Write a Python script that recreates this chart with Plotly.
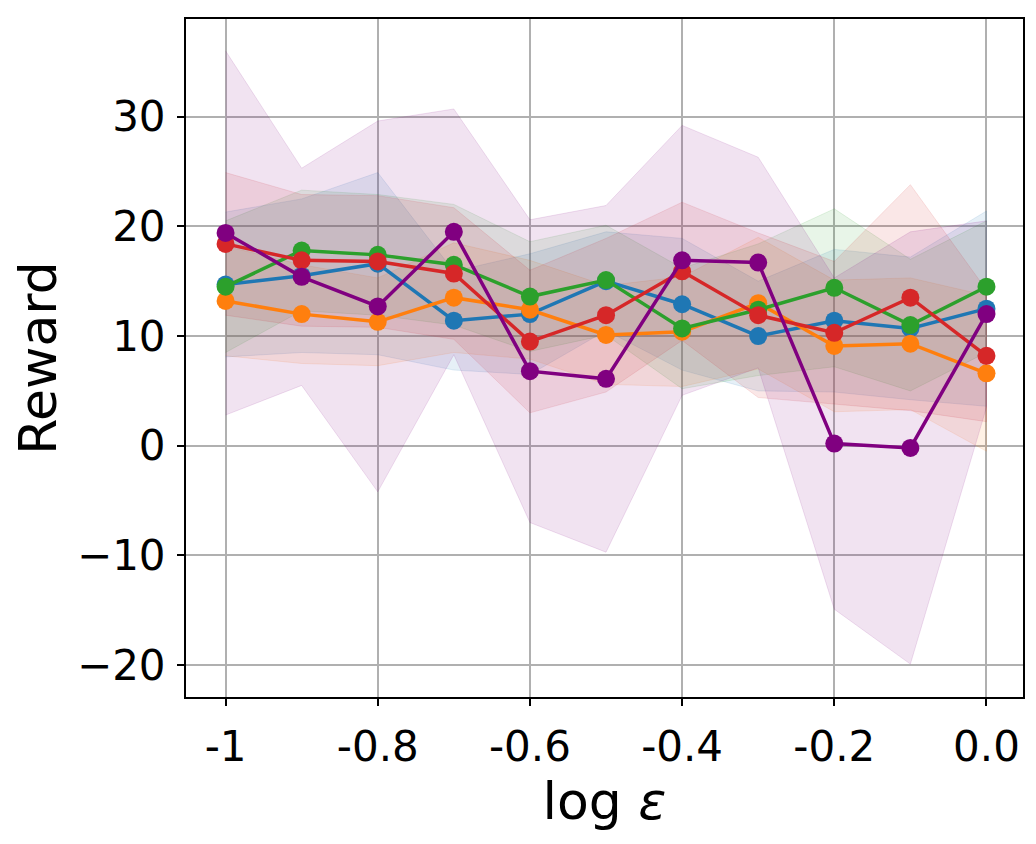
import plotly.graph_objects as go

x_vals = [-1.0, -0.9, -0.8, -0.7, -0.6, -0.5, -0.4, -0.3, -0.2, -0.1, 0.0]
x_tick_vals = [-1.0, -0.8, -0.6, -0.4, -0.2, 0.0]
x_tick_text = ["-1", "-0.8", "-0.6", "-0.4", "-0.2", "0.0"]
y_tick_vals = [-20, -10, 0, 10, 20, 30]

blue_mean = [14.7, 15.5, 16.6, 11.4, 12.0, 15.0, 12.9, 10.0, 11.4, 10.7, 12.5]
blue_std = [6.6, 7.0, 8.3, 4.5, 5.5, 4.5, 6.0, 5.0, 6.5, 6.5, 8.9]

orange_mean = [13.2, 12.0, 11.3, 13.5, 12.4, 10.1, 10.4, 13.0, 9.1, 9.3, 6.6]
orange_std = [5.0, 4.5, 4.0, 5.0, 4.5, 4.5, 5.0, 6.0, 6.0, 6.0, 7.1]

green_mean = [14.5, 17.8, 17.4, 16.5, 13.6, 15.1, 10.7, 12.4, 14.4, 11.0, 14.5]
green_std = [6.0, 5.5, 5.5, 5.5, 5.0, 5.0, 5.5, 6.0, 7.2, 6.0, 6.0]

red_mean = [18.4, 16.9, 16.8, 15.7, 9.5, 11.9, 15.9, 11.9, 10.3, 13.5, 8.2]
red_std = [6.5, 6.0, 6.0, 6.0, 6.5, 7.0, 6.3, 7.5, 6.5, 10.3, 6.0]

purple_mean = [19.4, 15.4, 12.7, 19.5, 6.8, 6.1, 16.9, 16.7, 0.2, -0.2, 12.0]
purple_std = [16.6, 9.9, 16.9, 11.2, 13.8, 15.8, 12.3, 9.6, 15.1, 19.7, 8.5]

series = [
    ("blue", blue_mean, blue_std, (31, 119, 180)),
    ("orange", orange_mean, orange_std, (255, 127, 14)),
    ("green", green_mean, green_std, (44, 160, 44)),
    ("red", red_mean, red_std, (214, 39, 40)),
    ("purple", purple_mean, purple_std, (128, 0, 128)),
]

fig = go.Figure()

for name, mean, std, (r, g, b) in series:
    upper = [m + s for m, s in zip(mean, std)]
    lower = [m - s for m, s in zip(mean, std)]
    fig.add_trace(go.Scatter(
        x=x_vals + x_vals[::-1],
        y=upper + lower[::-1],
        fill="toself",
        fillcolor=f"rgba({r},{g},{b},0.11)",
        line=dict(color=f"rgba({r},{g},{b},0.12)", width=1),
        mode="lines",
        hoverinfo="skip",
        showlegend=False,
    ))

for name, mean, std, (r, g, b) in series:
    fig.add_trace(go.Scatter(
        x=x_vals,
        y=mean,
        mode="lines+markers",
        line=dict(color=f"rgb({r},{g},{b})", width=3.5),
        marker=dict(color=f"rgb({r},{g},{b})", size=18),
        name=name,
        showlegend=False,
    ))

font_family = "DejaVu Sans"

fig.update_layout(
    width=1036,
    height=844,
    margin=dict(l=178, r=21, t=9, b=155),
    paper_bgcolor="white",
    plot_bgcolor="white",
    font=dict(family=font_family, color="black"),
    showlegend=False,
)

fig.update_xaxes(
    range=[-1.052, 0.048],
    tickvals=x_tick_vals,
    ticktext=x_tick_text,
    tickfont=dict(size=42, family=font_family, color="black"),
    ticks="outside",
    ticklen=7,
    tickwidth=1.7,
    tickcolor="black",
    ticklabelstandoff=5,
    showgrid=True,
    gridcolor="#b0b0b0",
    gridwidth=1.6,
    showline=True,
    linecolor="black",
    linewidth=2,
    mirror=True,
    zeroline=False,
    title=dict(text="log <i>ε</i>", font=dict(size=52, family=font_family, color="black"), standoff=0),
)

fig.update_yaxes(
    range=[-22.9, 38.9],
    tickvals=y_tick_vals,
    tickfont=dict(size=42, family=font_family, color="black"),
    ticks="outside",
    ticklen=7,
    tickwidth=1.7,
    tickcolor="black",
    ticklabelstandoff=3,
    showgrid=True,
    gridcolor="#b0b0b0",
    gridwidth=1.6,
    showline=True,
    linecolor="black",
    linewidth=2,
    mirror=True,
    zeroline=False,
    title=dict(text="Reward", font=dict(size=52, family=font_family, color="black"), standoff=20),
)

fig.write_html("out.html")
